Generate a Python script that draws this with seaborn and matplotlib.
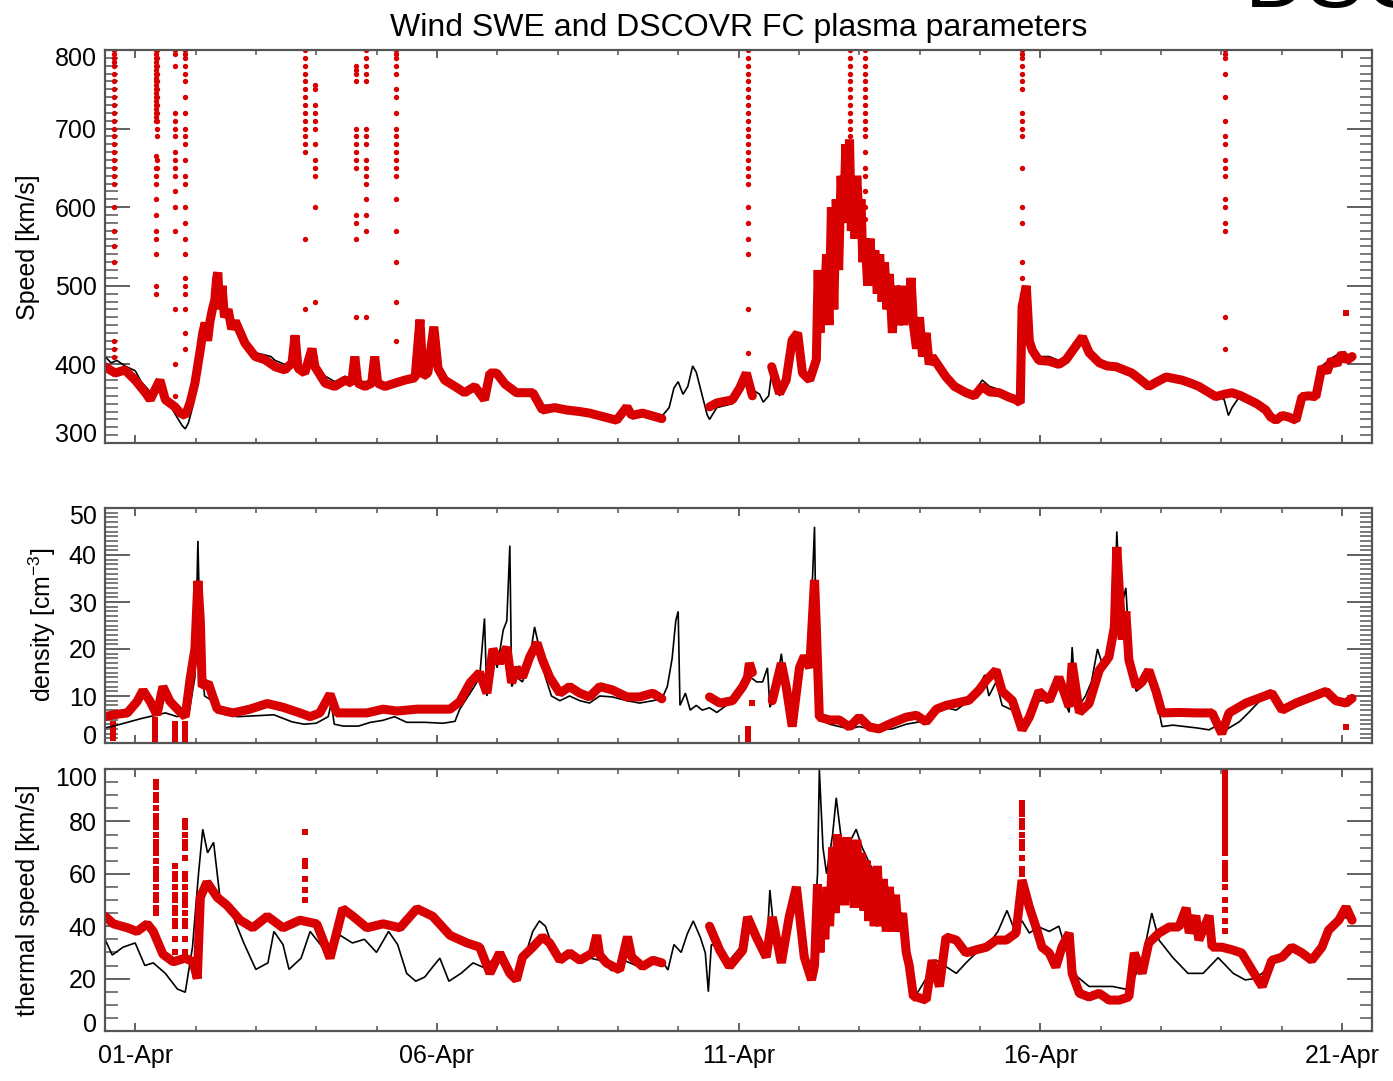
import numpy as np
import pandas as pd
import matplotlib
matplotlib.use("Agg")
import matplotlib.pyplot as plt
import matplotlib.dates as mdates
from matplotlib.ticker import FixedLocator, MultipleLocator
from matplotlib.transforms import ScaledTranslation
import seaborn as sns

# ---------------- data (time in days since 01-Apr 00:00) ----------------
speed_dscovr_t = [-0.50, -0.33, -0.17, 0.00, 0.17, 0.25, 0.33, 0.41, 0.50, 0.66, 0.75, 0.83, 0.91, 0.99,
                  1.08, 1.12, 1.16, 1.20, 1.24, 1.28, 1.32, 1.35, 1.37, 1.40, 1.44, 1.48, 1.54, 1.60, 1.66,
                  1.82, 1.99, 2.15, 2.32, 2.48, 2.60, 2.65,
                  2.70, 2.81, 2.93, 2.98, 3.15, 3.31, 3.48, 3.59, 3.64, 3.69, 3.81, 3.92, 3.97, 4.02, 4.14,
                  4.30, 4.47, 4.64, 4.72, 4.77, 4.85, 4.95, 5.02, 5.13, 5.30, 5.46, 5.63, 5.79, 5.88, 5.99,
                  6.13, 6.32, 6.59, 6.75, 6.95, 7.15, 7.37, 7.53, 7.78, 7.98, 8.15, 8.23, 8.41, 8.64, 8.73,
                  8.80, 9.52, 9.64, 9.90, 10.02, 10.13, 10.23, 10.35, 10.55, 10.68, 10.79, 10.89, 10.98,
                  11.06, 11.18, 11.29, 11.32, 11.35, 11.38, 11.42, 11.46, 11.50, 11.54, 11.58, 11.62, 11.66,
                  11.70, 11.74, 11.78, 11.81, 11.84, 11.87, 11.90, 11.93, 11.96, 12.00, 12.03, 12.06, 12.10,
                  12.14, 12.18, 12.22, 12.26, 12.30, 12.34, 12.38, 12.42, 12.46, 12.50, 12.55, 12.60, 12.65,
                  12.70, 12.74, 12.78, 12.82, 12.86, 12.90, 12.95, 13.00, 13.05, 13.11, 13.16, 13.21,
                  13.44, 13.58, 13.77, 13.91, 14.04, 14.16, 14.32, 14.49, 14.60, 14.67, 14.70, 14.77,
                  14.82, 14.87, 14.98, 15.15, 15.31, 15.43, 15.56, 15.70, 15.81, 15.98, 16.11, 16.26, 16.39,
                  16.52, 16.67, 16.80, 16.94, 17.09, 17.22, 17.35, 17.50, 17.63, 17.76, 17.91, 18.05, 18.18,
                  18.33, 18.46, 18.59, 18.74, 18.82, 18.91, 19.01, 19.12, 19.24, 19.34, 19.45, 19.57, 19.67,
                  19.75, 19.83, 19.92, 20.00, 20.08, 20.17]
speed_dscovr_v = [397, 389, 393, 380, 364, 355, 368, 380, 355, 346, 338, 335, 351, 376,
                  419, 440, 453, 430, 455, 470, 482, 510, 517, 470, 500, 460, 470, 445, 455,
                  427, 410, 406, 397, 393, 402, 437,
                  395, 389, 420, 397, 376, 372, 380, 376, 410, 376, 372, 376, 410, 376, 372,
                  376, 380, 383, 457, 385, 389, 448, 395, 380, 372, 364, 372, 355, 389, 389,
                  375, 364, 364, 342, 345, 342, 340, 338, 333, 329, 346, 335, 338, 333, 331,
                  np.nan, 346, 351, 355, 370, 389, 360, np.nan, 397, 363, 380, 431, 440,
                  389, 380, 406, 520, 440, 520, 470, 540, 450, 600, 470, 610, 520,
                  640, 580, 680, 600, 686, 570, 620, 560, 640, 580, 610, 530, 560,
                  500, 560, 510, 545, 490, 540, 480, 530, 470, 515, 440, 500, 450,
                  500, 450, 490, 460, 510, 450, 420, 460, 410, 440, 400, 410,
                  384, 372, 364, 360, 372, 365, 364, 358, 355, 351, 473, 500,
                  430, 418, 405, 404, 400, 406, 420, 435, 415, 402, 398, 397, 393,
                  389, 380, 372, 378, 384, 382, 380, 376, 372, 366, 359, 362, 364,
                  360, 355, 350, 342, 333, 329, 335, 333, 329, 359, 360, 359, 397,
                  390, 406, 400, 414, 405, 410]

speed_wind_t = [-0.50, -0.40, -0.30, -0.17, 0.00, 0.10, 0.17, 0.25, 0.33, 0.41, 0.50, 0.60, 0.70, 0.78,
                0.83, 0.88, 0.95, 1.05, 1.16, 1.24, 1.32, 1.37, 1.44, 1.54, 1.66, 1.82, 1.99, 2.15, 2.25,
                2.32, 2.48, 2.60, 2.70, 2.81, 2.93, 2.98, 3.15, 3.31, 3.48, 3.64, 3.81, 3.97, 4.14, 4.30,
                4.47, 4.64, 4.80, 4.95, 5.05, 5.13, 5.30, 5.46, 5.63, 5.79, 5.88, 5.99, 6.13, 6.32, 6.59,
                6.75, 6.95, 7.15, 7.37, 7.53, 7.78, 7.98, 8.15, 8.41, 8.64, 8.73, 8.85, 8.93, 9.00, 9.08,
                9.16, 9.24, 9.30, 9.40, 9.48, 9.52, 9.64, 9.90, 10.02, 10.13, 10.23, 10.35, 10.41, 10.50,
                10.55, 10.68, 10.79, 10.89, 10.98, 11.06, 11.18, 11.29, 11.34, 11.42, 11.51, 11.62, 11.72,
                11.79, 11.84, 11.89, 12.00, 12.12, 12.22, 12.38, 12.55, 12.72, 12.88, 13.05, 13.21, 13.44,
                13.58, 13.77, 13.91, 14.04, 14.16, 14.32, 14.49, 14.60, 14.67, 14.70, 14.77, 14.82, 14.87,
                14.98, 15.15, 15.31, 15.43, 15.56, 15.70, 15.81, 15.98, 16.11, 16.26, 16.39, 16.52, 16.67,
                16.80, 16.94, 17.09, 17.22, 17.35, 17.50, 17.63, 17.76, 17.91, 18.05, 18.12, 18.18, 18.33,
                18.46, 18.59, 18.74, 18.91, 19.01, 19.12, 19.24, 19.34, 19.45, 19.57, 19.67, 19.83, 20.00,
                20.17]
speed_wind_v = [410, 402, 405, 398, 392, 378, 372, 365, 372, 368, 358, 345, 332, 322,
                318, 325, 345, 395, 440, 450, 475, 500, 480, 465, 450, 432, 415, 412, 410,
                405, 400, 405, 400, 395, 400, 402, 385, 378, 385, 378, 378, 380, 375, 380,
                383, 388, 392, 400, 392, 385, 375, 368, 375, 365, 385, 392, 378, 368, 365,
                348, 348, 345, 342, 340, 335, 330, 338, 338, 336, 334, 345, 370, 378, 362,
                372, 398, 390, 360, 336, 330, 345, 350, 362, 380, 368, 362, 352, 360,
                390, 360, 375, 420, 430, 385, 378, 400, 470, 470, 510, 570, 600,
                640, 660, 610, 570, 520, 505, 500, 490, 460, 470, 435, 405, 385,
                375, 362, 365, 380, 372, 368, 362, 358, 355, 470, 480, 430, 420,
                410, 410, 405, 410, 425, 432, 418, 405, 400, 400, 396, 392, 383,
                376, 382, 388, 384, 383, 378, 375, 368, 362, 355, 335, 345, 362,
                358, 352, 345, 332, 337, 335, 332, 360, 362, 362, 398, 408, 416,
                410]

speed_spike_t = [-0.35, 0.34, 0.37, 0.66, 0.83, 2.81, 2.98, 3.66, 3.83, 4.32, 10.15, 11.85, 12.09, 14.70, 18.06]
speed_spike_v = [
    [800, 795, 790, 785, 780, 770, 760, 750, 740, 730, 720, 710, 700, 690, 680, 670, 660, 650, 640, 630, 600, 570, 550, 530, 430, 420, 410],
    [800, 795, 790, 785, 780, 775, 770, 765, 760, 755, 750, 745, 740, 735, 730, 725, 720, 715, 710, 665, 650, 640, 630, 610, 590, 570, 560, 540, 500, 490],
    [800, 790, 780, 770, 760, 750, 740, 730, 720, 710, 700, 690, 660, 650],
    [800, 795, 780, 720, 710, 700, 690, 670, 660, 650, 640, 620, 600, 570, 470, 400, 360],
    [800, 795, 790, 780, 770, 760, 740, 720, 700, 690, 680, 660, 640, 630, 600, 580, 560, 540, 510, 500, 490, 470, 440, 420],
    [800, 790, 780, 770, 760, 750, 740, 730, 720, 710, 700, 690, 680, 670, 560, 470],
    [755, 750, 730, 720, 710, 700, 680, 660, 650, 640, 600, 480, 410],
    [780, 775, 770, 760, 700, 690, 680, 670, 660, 650, 590, 580, 560, 460],
    [800, 790, 780, 770, 760, 700, 690, 680, 660, 650, 640, 630, 610, 590, 570, 460],
    [800, 795, 790, 780, 770, 750, 740, 720, 700, 690, 680, 670, 660, 650, 640, 610, 570, 530, 480, 430],
    [800, 790, 780, 770, 760, 750, 740, 730, 720, 710, 700, 690, 680, 670, 660, 650, 640, 630, 600, 580, 560, 540, 470, 415],
    [800, 790, 780, 770, 760, 750, 740, 730, 720, 710, 700, 690, 680],
    [800, 790, 780, 770, 760, 750, 740, 730, 720, 710, 700, 690, 670, 650, 640, 620, 600, 585],
    [800, 795, 790, 780, 770, 760, 750, 720, 710, 700, 690, 650, 600, 580, 530, 510, 490],
    [800, 795, 790, 770, 740, 710, 690, 680, 660, 650, 640, 610, 600, 580, 570, 460, 420],
]
speed_extra_t = [20.07]
speed_extra_v = [466]

dens_dscovr_t = [-0.50, -0.36, -0.25, -0.13, 0.03, 0.13, 0.25, 0.36, 0.46, 0.58, 0.70, 0.83, 0.91, 0.99,
                 1.04, 1.08, 1.11, 1.21, 1.36, 1.62, 1.90, 2.19, 2.45, 2.73, 2.90, 3.06, 3.23, 3.34, 3.61,
                 3.84, 4.11, 4.34, 4.67, 4.93, 5.22, 5.38, 5.55, 5.71, 5.83, 5.93, 6.04, 6.16, 6.24, 6.32,
                 6.42, 6.54, 6.66, 6.75, 6.87, 7.04, 7.20, 7.37, 7.53, 7.70, 7.91, 8.15, 8.36, 8.58, 8.73,
                 8.80, 9.52, 9.69, 9.90, 10.07, 10.15, 10.18, 10.23, 10.30, 10.56, 10.71, 10.79, 10.89,
                 11.01, 11.09, 11.18, 11.26, 11.29, 11.34, 11.51, 11.67, 11.84, 12.00, 12.17, 12.33, 12.55,
                 12.78, 12.95, 13.11, 13.28, 13.44, 13.61, 13.82, 13.99, 14.11, 14.27, 14.37, 14.54, 14.70,
                 14.82, 14.98, 15.15, 15.31, 15.48, 15.53, 15.65, 15.81, 15.98, 16.14, 16.23, 16.27, 16.36,
                 16.42, 16.47, 16.59, 16.69, 16.80, 16.92, 17.02, 17.30, 17.58, 17.85, 18.01, 18.13, 18.41,
                 18.68, 18.84, 19.01, 19.24, 19.50, 19.74, 19.90, 20.07, 20.17]
dens_dscovr_v = [5.6, 6.0, 6.2, 6.4, 8.8, 11.2, 8.8, 6.0, 12.0, 8.8, 7.2, 5.6, 13.6, 20.0,
                 34.5, 26.0, 12.0, 12.8, 7.2, 6.4, 7.2, 8.4, 7.6, 6.4, 5.6, 6.4, 10.4, 6.4, 6.4,
                 6.4, 7.2, 6.8, 7.2, 7.2, 7.2, 8.8, 12.8, 15.0, 10.6, 20.0, 17.0, 20.4, 12.8, 16.0,
                 14.0, 18.3, 21.3, 17.7, 14.0, 10.6, 12.0, 10.6, 9.8, 12.0, 11.3, 9.8, 9.8, 10.6, 9.4,
                 np.nan, 9.8, 8.5, 9.0, 12.0, 14.0, 17.0, 15.0, np.nan, 9.0, 17.0, 12.0, 3.5,
                 16.0, 18.5, 16.0, 34.7, 24.7, 5.5, 4.9, 4.9, 3.4, 5.5, 3.4, 3.0, 4.3,
                 5.5, 5.9, 4.5, 7.2, 8.0, 8.5, 9.1, 11.3, 13.4, 15.5, 11.0, 9.0, 2.8,
                 5.5, 11.0, 9.0, 14.0, 7.7, 17.0, 6.5, 8.4, 15.5, 18.3, 24.7, 41.7, 22.0,
                 28.0, 17.7, 12.0, 13.0, 15.5, 11.0, 6.4, 6.5, 6.4, 6.4, 2.0, 6.4, 8.5,
                 9.8, 10.6, 7.0, 8.5, 9.8, 11.0, 9.0, 8.5, 9.5]

dens_wind_t = [-0.50, -0.30, -0.10, 0.10, 0.30, 0.50, 0.70, 0.90, 0.99, 1.04, 1.08, 1.15, 1.30, 1.50,
               1.70, 2.00, 2.30, 2.60, 2.80, 3.00, 3.20, 3.25, 3.30, 3.45, 3.70, 3.90, 4.10, 4.30, 4.50,
               4.80, 5.10, 5.30, 5.38, 5.50, 5.62, 5.71, 5.79, 5.83, 5.93, 6.00, 6.10, 6.16, 6.21, 6.24,
               6.32, 6.42, 6.54, 6.62, 6.70, 6.80, 6.90, 7.04, 7.20, 7.37, 7.53, 7.70, 7.91, 8.15, 8.36,
               8.58, 8.73, 8.82, 8.90, 8.96, 9.00, 9.03, 9.12, 9.20, 9.30, 9.40, 9.52, 9.64, 9.80, 9.95,
               10.07, 10.20, 10.30, 10.40, 10.48, 10.52, 10.60, 10.71, 10.79, 10.89, 11.01, 11.10, 11.18,
               11.26, 11.30, 11.34, 11.51, 11.67, 11.84, 12.00, 12.17, 12.33, 12.55, 12.78, 13.00, 13.20,
               13.44, 13.61, 13.82, 13.99, 14.08, 14.15, 14.27, 14.37, 14.54, 14.70, 14.82, 14.98, 15.15,
               15.31, 15.48, 15.53, 15.60, 15.75, 15.85, 15.95, 16.05, 16.14, 16.23, 16.27, 16.33, 16.42,
               16.47, 16.59, 16.69, 16.80, 16.92, 17.02, 17.20, 17.40, 17.60, 17.80, 17.90, 18.01, 18.13,
               18.30, 18.45, 18.68, 18.84, 19.01, 19.24, 19.50, 19.74, 19.90, 20.07, 20.17]
dens_wind_v = [3.2, 3.8, 4.5, 5.2, 5.8, 6.4, 5.6, 7.0, 14.0, 43.0, 20.0, 10.0, 8.8, 6.0,
               5.6, 5.8, 6.0, 4.5, 4.0, 4.2, 5.6, 8.5, 4.0, 3.6, 3.6, 4.4, 4.8, 5.6, 4.4,
               4.4, 4.2, 4.6, 7.2, 9.6, 12.0, 14.0, 26.5, 10.0, 20.0, 16.0, 24.0, 26.0, 42.0, 12.0,
               14.0, 13.0, 18.0, 24.7, 20.0, 14.0, 10.0, 9.0, 10.0, 9.0, 8.5, 10.0, 9.8, 9.0, 8.5,
               9.0, 9.4, 12.0, 18.0, 26.0, 28.0, 8.0, 10.6, 7.0, 8.0, 7.0, 7.5, 6.5, 8.0, 9.0,
               11.0, 14.0, 13.0, 13.0, 16.0, 7.6, 10.0, 19.0, 11.0, 4.0, 14.0, 18.0, 20.0,
               46.0, 10.0, 5.0, 4.0, 3.5, 3.0, 3.5, 3.0, 2.8, 3.0, 4.0, 4.5, 6.0,
               7.5, 7.0, 9.0, 12.0, 14.5, 10.0, 13.0, 8.0, 7.0, 3.0, 5.0, 9.0, 9.0,
               12.0, 6.5, 20.4, 7.0, 10.0, 13.0, 20.0, 16.0, 17.0, 25.0, 45.0, 28.0, 33.0,
               22.0, 11.0, 12.0, 14.0, 10.0, 3.5, 3.8, 3.5, 3.2, 2.8, 3.5, 2.0, 3.2,
               4.5, 6.4, 9.5, 10.0, 7.5, 8.5, 9.5, 10.5, 9.0, 8.5, 9.0]

dens_spike_t = [-0.36, 0.33, 0.66, 0.83, 10.15, 10.22, 20.07]
dens_spike_v = [[1, 2, 3, 4], [0, 1, 2, 3, 4, 5], [0, 1, 2, 3, 4], [0, 1, 2, 3, 4], [0, 1, 2, 3], [8.5], [3.4]]

vth_dscovr_t = [-0.50, -0.36, -0.13, 0.03, 0.20, 0.30, 0.46, 0.63, 0.83, 0.96, 1.03, 1.08, 1.19, 1.36,
                1.52, 1.74, 1.95, 2.19, 2.45, 2.73, 3.01, 3.23, 3.44, 3.61, 3.84, 4.11, 4.39, 4.67, 4.93,
                5.22, 5.50, 5.71, 5.88, 6.04, 6.21, 6.32, 6.42, 6.59, 6.75, 6.87, 7.04, 7.20, 7.37, 7.58,
                7.65, 7.70, 7.81, 8.03, 8.16, 8.23, 8.41, 8.58, 8.73, 8.80, 9.52, 9.69, 9.85, 10.07, 10.15,
                10.30, 10.46, 10.56, 10.71, 10.84, 10.96, 11.09, 11.21, 11.26, 11.31, 11.35, 11.39, 11.43,
                11.47, 11.51, 11.56, 11.60, 11.64, 11.68, 11.72, 11.76, 11.80, 11.84, 11.88, 11.92, 11.96,
                12.00, 12.04, 12.08, 12.12, 12.16, 12.20, 12.25, 12.30, 12.35, 12.40, 12.45, 12.50, 12.55,
                12.60, 12.65, 12.72, 12.78, 12.83, 12.90, 12.95, 13.11, 13.21, 13.33, 13.44,
                13.61, 13.77, 13.94, 14.11, 14.27, 14.44, 14.60, 14.70, 14.82, 14.93, 15.03, 15.15, 15.26,
                15.36, 15.48, 15.53, 15.65, 15.81, 15.98, 16.14, 16.31, 16.47, 16.56, 16.69, 16.80, 16.97,
                17.14, 17.30, 17.42, 17.47, 17.58, 17.63, 17.80, 17.85, 18.01, 18.18, 18.34, 18.51, 18.68,
                18.84, 19.01, 19.17, 19.34, 19.50, 19.67, 19.78, 19.95, 20.07, 20.17]
vth_dscovr_v = [43.8, 40.9, 39.4, 38.0, 40.9, 38.0, 29.3, 26.4, 27.8, 26.4, 20.0, 51.0, 56.8, 51.0,
                48.0, 42.3, 39.4, 43.8, 39.4, 42.3, 40.9, 27.8, 46.7, 43.8, 39.4, 40.9, 39.4, 46.7, 43.8,
                36.5, 33.6, 32.0, 22.0, 29.8, 22.0, 19.5, 28.2, 32.0, 35.9, 33.6, 27.0, 29.8, 27.0, 29.8,
                36.6, 29.0, 26.0, 23.3, 36.0, 28.2, 24.6, 27.0, 26.0, np.nan, 40.0, 30.8, 24.6, 30.8, 43.5,
                35.6, 28.2, 43.5, 26.0, 43.5, 55.0, 28.2, 19.5, 25.0, 56.0, 30.0, 52.0, 35.0,
                55.0, 40.0, 70.0, 45.0, 75.0, 50.0, 72.0, 48.0, 74.0, 50.0, 70.0, 47.0, 73.0,
                50.0, 68.0, 46.0, 65.0, 42.0, 62.0, 40.0, 63.0, 40.0, 58.0, 38.0, 55.0, 38.0,
                52.0, 38.0, 45.0, 30.0, 25.0, 13.0, 13.0, 11.8, 27.0, 17.0, 35.9,
                34.7, 29.8, 31.0, 32.0, 34.7, 34.7, 37.4, 57.6, 47.3, 39.7, 32.0, 29.8, 24.4,
                32.0, 37.4, 22.0, 14.4, 13.0, 14.4, 11.8, 11.8, 13.0, 29.8, 22.0, 33.6, 37.4,
                39.7, 39.7, 47.0, 37.4, 44.0, 34.7, 44.0, 32.0, 32.0, 31.0, 29.8, 23.3, 17.0,
                27.0, 28.2, 32.0, 29.8, 27.0, 32.0, 38.5, 42.3, 47.3, 42.3]

vth_wind_t = [-0.50, -0.38, -0.20, 0.00, 0.16, 0.30, 0.50, 0.70, 0.83, 0.95, 1.05, 1.12, 1.20, 1.30,
              1.40, 1.55, 1.80, 2.00, 2.20, 2.30, 2.45, 2.55, 2.75, 2.90, 3.05, 3.20, 3.40, 3.60, 3.80,
              4.00, 4.20, 4.35, 4.50, 4.65, 4.80, 4.95, 5.05, 5.20, 5.40, 5.60, 5.80, 5.95, 6.10, 6.25,
              6.40, 6.59, 6.70, 6.80, 6.95, 7.10, 7.30, 7.50, 7.70, 7.90, 8.10, 8.30, 8.50, 8.73, 8.83,
              8.93, 9.05, 9.15, 9.25, 9.37, 9.45, 9.50, 9.55, 9.70, 9.85, 10.07, 10.20, 10.30, 10.46,
              10.52, 10.58, 10.71, 10.84, 10.96, 11.09, 11.21, 11.31, 11.34, 11.40, 11.46, 11.56, 11.62,
              11.70, 11.80, 11.95, 12.05, 12.20, 12.35, 12.50, 12.65, 12.83, 12.95, 13.11, 13.28, 13.44,
              13.61, 13.77, 13.94, 14.11, 14.30, 14.45, 14.55, 14.70, 14.82, 14.98, 15.15, 15.31, 15.48,
              15.60, 15.81, 16.00, 16.20, 16.47, 16.69, 16.85, 16.97, 17.20, 17.45, 17.70, 17.95, 18.20,
              18.40, 18.55, 18.68, 18.84, 19.01, 19.17, 19.34, 19.50, 19.67, 19.83, 20.00, 20.17]
vth_wind_v = [35.0, 29.0, 32.0, 33.6, 25.0, 26.0, 22.0, 16.0, 14.8, 32.0, 60.0, 77.0, 68.0, 72.0,
              52.0, 48.0, 33.6, 23.5, 26.0, 38.0, 33.0, 23.5, 27.8, 38.0, 33.6, 29.0, 36.5, 33.6, 35.0,
              30.0, 38.0, 33.0, 22.0, 19.0, 20.6, 25.0, 27.8, 19.0, 22.0, 26.0, 24.0, 28.0, 30.0, 20.0,
              24.0, 38.0, 42.0, 40.0, 30.0, 27.0, 29.0, 28.0, 27.0, 23.0, 27.0, 25.0, 26.0, 27.0, 23.3,
              33.0, 30.0, 37.0, 42.0, 35.6, 29.8, 15.0, 33.0, 32.0, 27.0, 33.0, 40.0, 35.0, 28.0,
              53.8, 40.0, 28.0, 42.0, 52.0, 30.0, 22.0, 60.0, 99.6, 70.0, 60.0, 75.0, 89.0,
              74.0, 70.0, 77.0, 70.0, 62.6, 58.0, 48.8, 45.0, 27.0, 14.0, 20.0, 27.0, 24.6,
              22.0, 26.0, 29.8, 32.0, 38.0, 46.0, 40.0, 42.0, 37.4, 39.7, 38.0, 40.0, 27.0,
              21.0, 17.0, 17.0, 17.0, 15.7, 27.0, 45.0, 34.7, 28.0, 22.0, 22.0, 28.0, 22.0,
              19.5, 20.0, 22.0, 26.0, 28.0, 31.0, 29.0, 27.0, 32.0, 40.0, 44.0, 42.0]

vth_spike_t = [0.35, 0.66, 0.83, 2.81, 14.70, 18.06]
vth_spike_v = [
    [95, 93, 90, 88, 85, 82, 80, 78, 75, 72, 70, 68, 65, 62, 60, 58, 55, 52, 50, 47, 45],
    [63, 60, 58, 55, 52, 50, 47, 45, 42, 40, 35, 30],
    [80, 78, 75, 72, 70, 66, 60, 58, 55, 52, 50, 48, 45, 42, 40, 35, 30],
    [76, 65, 63, 58, 54, 50],
    [87, 85, 83, 80, 78, 75, 72, 70, 66, 62, 60],
    [100, 98, 96, 94, 92, 90, 88, 86, 84, 82, 80, 78, 76, 74, 72, 70, 68, 64, 62, 60, 58, 55, 50, 46, 42, 38],
]

speed_ticks = [300, 400, 500, 600, 700, 800]
dens_ticks = [0, 10, 20, 30, 40, 50]
vth_ticks = [0, 20, 40, 60, 80, 100]
label_days = [1, 6, 11, 16, 21]

title = "Wind SWE and DSCOVR FC plasma parameters"
ylabels = ["Speed [km/s]", r"density [cm$^{\mathregular{-3}}$]", "thermal speed [km/s]"]

# ---------------- style ----------------
sns.set_theme(style="white")
plt.rcParams["font.family"] = ["Liberation Sans", "DejaVu Sans"]
plt.rcParams["mathtext.fontset"] = "custom"
plt.rcParams["mathtext.rm"] = "Liberation Sans"
plt.rcParams["mathtext.it"] = "Liberation Sans:italic"
plt.rcParams["mathtext.bf"] = "Liberation Sans:bold"
plt.rcParams["text.color"] = "black"
plt.rcParams["axes.labelcolor"] = "black"

RED = "#d80000"
SPINE = "#555555"
START = pd.Timestamp("2016-04-01")


def to_time(days):
    return START + pd.to_timedelta(np.asarray(days, dtype=float), unit="D")


def draw_line(ax, t, v, color, lw):
    df = pd.DataFrame({"time": to_time(t), "value": np.asarray(v, dtype=float)})
    df["seg"] = df["value"].isna().cumsum()
    df = df.dropna()
    sns.lineplot(data=df, x="time", y="value", units="seg", estimator=None, sort=False,
                 color=color, lw=lw, ax=ax, legend=False, solid_joinstyle="bevel")


def draw_spikes(ax, times, cols, size, marker):
    tt, vv = [], []
    for t, col in zip(times, cols):
        tt += [t] * len(col)
        vv += list(col)
    sns.scatterplot(x=to_time(tt), y=vv, color=RED, s=size, marker=marker, linewidth=0, ax=ax, legend=False)


fig = plt.figure(figsize=(13.93, 10.81), dpi=100)
W, H = 1393.0, 1081.0
left, right = 105 / W, 1372 / W
ax1 = fig.add_axes([left, 1 - 443 / H, right - left, 393 / H])
ax2 = fig.add_axes([left, 1 - 743 / H, right - left, 235 / H])
ax3 = fig.add_axes([left, 1 - 1031 / H, right - left, 262 / H])

RED_LW = 6.5
# speed
draw_line(ax1, speed_wind_t, speed_wind_v, "black", 1.2)
draw_line(ax1, speed_dscovr_t, speed_dscovr_v, RED, RED_LW)
draw_spikes(ax1, speed_spike_t, speed_spike_v, 15, "o")
draw_spikes(ax1, speed_extra_t, [speed_extra_v], 22, "s")
# density
draw_line(ax2, dens_wind_t, dens_wind_v, "black", 1.2)
draw_line(ax2, dens_dscovr_t, dens_dscovr_v, RED, RED_LW)
draw_spikes(ax2, dens_spike_t, dens_spike_v, 20, "s")
# thermal speed
draw_line(ax3, vth_wind_t, vth_wind_v, "black", 1.2)
draw_line(ax3, vth_dscovr_t, vth_dscovr_v, RED, RED_LW)
draw_spikes(ax3, vth_spike_t, vth_spike_v, 18, "s")

specs = [(ax1, speed_ticks, 10, 300, 800, 10, -7),
         (ax2, dens_ticks, 1, 0, 50, 8, -7),
         (ax3, vth_ticks, 5, 0, 100, 9, -8)]
for ax, yt, ymin_step, lo, hi, shift_lo, shift_hi in specs:
    ax.set_xlim(to_time(-0.5), to_time(20.5))
    ax.set_ylim(lo, hi)
    ax.set_xlabel("")
    ax.set_ylabel("")
    ax.xaxis.set_major_locator(FixedLocator(mdates.date2num(to_time(np.array(label_days) - 1))))
    ax.xaxis.set_minor_locator(mdates.DayLocator())
    ax.xaxis.set_major_formatter(mdates.DateFormatter("%d-%b"))
    ax.yaxis.set_major_locator(FixedLocator(yt))
    ax.yaxis.set_minor_locator(MultipleLocator(ymin_step))
    ax.tick_params(axis="x", which="major", direction="in", length=6, width=1.3, top=True, bottom=True,
                   color=SPINE, labelsize=18, labelcolor="black", pad=9)
    ax.tick_params(axis="x", which="minor", direction="in", length=3.5, width=1.1, top=True, bottom=True,
                   color=SPINE)
    ax.tick_params(axis="y", which="major", direction="in", length=18, width=1.3, left=True, right=True,
                   color=SPINE, labelsize=18, labelcolor="black", pad=6)
    ax.tick_params(axis="y", which="minor", direction="in", length=9, width=1.1, left=True, right=True,
                   color=SPINE)
    for sp in ax.spines.values():
        sp.set_color(SPINE)
        sp.set_linewidth(1.6)
    ax.grid(False)
    ticks = ax.yaxis.get_major_ticks()
    lab_lo, lab_hi = ticks[0].label1, ticks[-1].label1
    lab_lo.set_transform(lab_lo.get_transform() + ScaledTranslation(0, shift_lo / 100, fig.dpi_scale_trans))
    lab_hi.set_transform(lab_hi.get_transform() + ScaledTranslation(0, shift_hi / 100, fig.dpi_scale_trans))

ax1.tick_params(axis="x", which="both", labelbottom=False)
ax2.tick_params(axis="x", which="both", labelbottom=False)

fig.text(738.5 / W, 1 - 28 / H, title, ha="center", va="center", fontsize=23)
fig.text(28 / W, 1 - 247 / H, ylabels[0], rotation=90, ha="center", va="center", fontsize=18)
fig.text(42 / W, 1 - 625 / H, ylabels[1], rotation=90, ha="center", va="center", fontsize=18)
fig.text(28 / W, 1 - 900 / H, ylabels[2], rotation=90, ha="center", va="center", fontsize=18)
fig.text(1245 / W, 1 - 7 / H, "DSCOVR", ha="left", va="baseline", fontsize=62)

fig.savefig("out.png", dpi=100)
